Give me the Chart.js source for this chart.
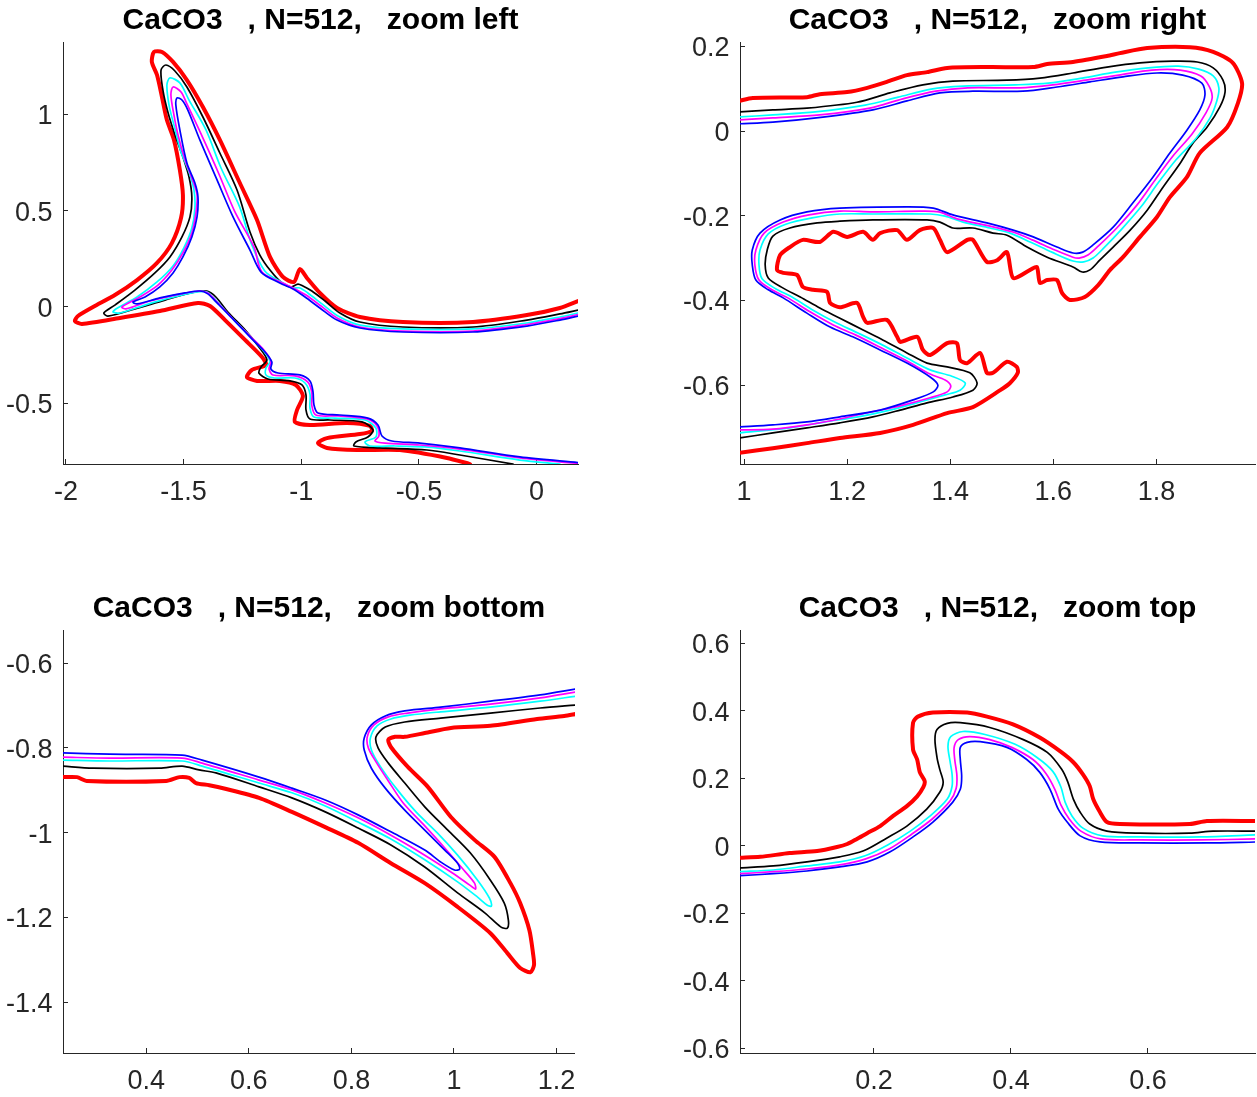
<!DOCTYPE html>
<html>
<head>
<meta charset="utf-8">
<script src="https://cdn.jsdelivr.net/npm/chart.js@4.4.0/dist/chart.umd.min.js"></script>
<style>
  body { margin: 0; background: #fff; width: 1257px; height: 1097px; position: relative; overflow: hidden; }
  canvas { position: absolute; }
</style>
</head>
<body>
<canvas id="zLeft" width="593" height="514" style="left:0;top:0"></canvas>
<canvas id="zRight" width="580" height="514" style="left:677px;top:0"></canvas>
<canvas id="zBottom" width="593" height="515" style="left:0;top:588px"></canvas>
<canvas id="zTop" width="580" height="515" style="left:677px;top:588px"></canvas>
<script>
// ---------- titles & ticks ----------
const titleBase = 'CaCO3   , N=512,   ';
const leftXTicks = [-2, -1.5, -1, -0.5, 0];
const leftYTicks = [-0.5, 0, 0.5, 1];
const rightXTicks = [1, 1.2, 1.4, 1.6, 1.8];
const rightYTicks = [-0.6, -0.4, -0.2, 0, 0.2];
const bottomXTicks = [0.4, 0.6, 0.8, 1, 1.2];
const bottomYTicks = [-1.4, -1.2, -1, -0.8, -0.6];
const topXTicks = [0.2, 0.4, 0.6];
const topYTicks = [-0.6, -0.4, -0.2, 0, 0.2, 0.4, 0.6];

// ---------- zoom left ----------
const leftRed = [[0.176,0.031],[0.099,-0.005],[-0.041,-0.042],[-0.270,-0.078],[-0.568,-0.078],[-0.751,-0.052],[-0.848,-0.005],[-0.921,0.073],[-0.976,0.151],[-1.006,0.197],[-1.031,0.130],[-1.078,0.156],[-1.133,0.260],[-1.188,0.452],[-1.261,0.644],[-1.346,0.868],[-1.418,1.039],[-1.486,1.179],[-1.545,1.273],[-1.592,1.325],[-1.626,1.325],[-1.635,1.273],[-1.613,1.205],[-1.592,1.091],[-1.571,0.971],[-1.541,0.868],[-1.516,0.712],[-1.503,0.582],[-1.511,0.462],[-1.550,0.332],[-1.613,0.229],[-1.698,0.140],[-1.792,0.062],[-1.885,0],[-1.949,-0.047],[-1.962,-0.073],[-1.932,-0.088],[-1.771,-0.057],[-1.601,-0.021],[-1.439,0.021],[-1.388,0.005],[-1.324,-0.068],[-1.239,-0.171],[-1.167,-0.260],[-1.150,-0.301],[-1.210,-0.327],[-1.231,-0.364],[-1.188,-0.384],[-1.091,-0.384],[-1.023,-0.405],[-0.993,-0.462],[-1.018,-0.535],[-1.027,-0.597],[-0.963,-0.613],[-0.806,-0.603],[-0.708,-0.618],[-0.700,-0.644],[-0.751,-0.660],[-0.891,-0.681],[-0.929,-0.707],[-0.891,-0.732],[-0.763,-0.743],[-0.581,-0.743],[-0.381,-0.784],[-0.283,-0.816]];
const leftBlack = [[0.176,-0.016],[0.099,-0.036],[-0.041,-0.068],[-0.270,-0.104],[-0.568,-0.104],[-0.751,-0.078],[-0.836,-0.031],[-0.899,0.031],[-0.955,0.083],[-0.993,0.109],[-1.014,0.119],[-1.044,0.104],[-1.082,0.125],[-1.133,0.192],[-1.176,0.270],[-1.218,0.390],[-1.273,0.608],[-1.346,0.800],[-1.418,0.987],[-1.486,1.143],[-1.537,1.226],[-1.575,1.257],[-1.596,1.231],[-1.588,1.127],[-1.567,1.013],[-1.537,0.894],[-1.503,0.779],[-1.477,0.675],[-1.465,0.571],[-1.473,0.468],[-1.507,0.364],[-1.558,0.260],[-1.622,0.177],[-1.707,0.088],[-1.792,0.010],[-1.839,-0.031],[-1.822,-0.047],[-1.707,-0.010],[-1.579,0.036],[-1.452,0.078],[-1.401,0.083],[-1.363,0.052],[-1.312,-0.026],[-1.239,-0.119],[-1.180,-0.208],[-1.146,-0.275],[-1.171,-0.312],[-1.180,-0.343],[-1.142,-0.374],[-1.048,-0.384],[-0.997,-0.405],[-0.980,-0.457],[-0.980,-0.535],[-0.963,-0.582],[-0.878,-0.587],[-0.742,-0.597],[-0.695,-0.639],[-0.717,-0.675],[-0.768,-0.701],[-0.776,-0.722],[-0.666,-0.732],[-0.466,-0.743],[-0.326,-0.769],[-0.100,-0.816]];
const leftCyan = [[0.176,-0.031],[0.099,-0.052],[-0.041,-0.083],[-0.270,-0.114],[-0.568,-0.114],[-0.751,-0.094],[-0.844,-0.047],[-0.912,0.016],[-0.972,0.073],[-1.006,0.099],[-1.035,0.099],[-1.078,0.125],[-1.155,0.187],[-1.213,0.332],[-1.262,0.520],[-1.341,0.722],[-1.405,0.920],[-1.477,1.075],[-1.516,1.164],[-1.558,1.190],[-1.571,1.153],[-1.562,1.049],[-1.541,0.945],[-1.511,0.805],[-1.477,0.701],[-1.456,0.608],[-1.452,0.514],[-1.465,0.410],[-1.499,0.307],[-1.545,0.213],[-1.613,0.130],[-1.698,0.052],[-1.788,-0.010],[-1.800,-0.026],[-1.771,-0.031],[-1.664,0.010],[-1.558,0.047],[-1.443,0.078],[-1.401,0.078],[-1.363,0.036],[-1.303,-0.047],[-1.227,-0.140],[-1.167,-0.218],[-1.133,-0.281],[-1.150,-0.317],[-1.150,-0.353],[-1.112,-0.369],[-1.027,-0.369],[-0.984,-0.395],[-0.963,-0.452],[-0.963,-0.525],[-0.946,-0.571],[-0.857,-0.577],[-0.729,-0.587],[-0.683,-0.629],[-0.683,-0.675],[-0.729,-0.701],[-0.708,-0.722],[-0.602,-0.722],[-0.474,-0.727],[-0.326,-0.748],[-0.071,-0.795],[0.099,-0.816]];
const leftMagenta = [[0.176,-0.039],[0.099,-0.060],[-0.041,-0.091],[-0.270,-0.125],[-0.568,-0.125],[-0.751,-0.104],[-0.848,-0.057],[-0.916,0.005],[-0.980,0.062],[-1.018,0.088],[-1.069,0.119],[-1.167,0.182],[-1.201,0.312],[-1.282,0.494],[-1.350,0.691],[-1.426,0.899],[-1.486,1.055],[-1.511,1.117],[-1.545,1.143],[-1.554,1.101],[-1.541,0.997],[-1.524,0.894],[-1.494,0.764],[-1.465,0.670],[-1.443,0.582],[-1.448,0.488],[-1.465,0.384],[-1.503,0.281],[-1.550,0.192],[-1.609,0.114],[-1.686,0.052],[-1.762,0],[-1.745,-0.010],[-1.643,0.031],[-1.537,0.062],[-1.435,0.083],[-1.397,0.073],[-1.358,0.026],[-1.295,-0.057],[-1.218,-0.151],[-1.159,-0.223],[-1.129,-0.281],[-1.137,-0.322],[-1.120,-0.353],[-1.027,-0.358],[-0.972,-0.390],[-0.955,-0.447],[-0.955,-0.514],[-0.938,-0.561],[-0.844,-0.566],[-0.721,-0.582],[-0.678,-0.618],[-0.670,-0.670],[-0.687,-0.696],[-0.644,-0.707],[-0.496,-0.717],[-0.326,-0.738],[-0.071,-0.784],[0.176,-0.813]];
const leftBlue = [[0.176,-0.047],[0.099,-0.068],[-0.041,-0.099],[-0.270,-0.130],[-0.568,-0.130],[-0.751,-0.109],[-0.848,-0.068],[-0.921,-0.005],[-0.984,0.052],[-1.035,0.094],[-1.091,0.125],[-1.170,0.180],[-1.218,0.296],[-1.290,0.468],[-1.358,0.660],[-1.431,0.868],[-1.482,1.023],[-1.507,1.075],[-1.528,1.086],[-1.533,1.049],[-1.516,0.920],[-1.486,0.748],[-1.452,0.644],[-1.439,0.571],[-1.443,0.468],[-1.465,0.364],[-1.503,0.260],[-1.545,0.177],[-1.601,0.104],[-1.664,0.052],[-1.715,0.026],[-1.698,0.016],[-1.601,0.047],[-1.494,0.073],[-1.431,0.083],[-1.397,0.068],[-1.354,0.016],[-1.282,-0.073],[-1.210,-0.166],[-1.154,-0.234],[-1.125,-0.286],[-1.129,-0.322],[-1.099,-0.343],[-1.006,-0.353],[-0.963,-0.384],[-0.950,-0.442],[-0.946,-0.509],[-0.929,-0.551],[-0.836,-0.561],[-0.717,-0.577],[-0.674,-0.613],[-0.657,-0.670],[-0.615,-0.696],[-0.496,-0.707],[-0.326,-0.732],[-0.071,-0.779],[0.176,-0.808]];

// ---------- zoom right ----------
const rightRed = [[0.990,0.071],[1.017,0.078],[1.122,0.080],[1.147,0.087],[1.200,0.092],[1.239,0.102],[1.277,0.116],[1.316,0.132],[1.355,0.139],[1.394,0.149],[1.477,0.151],[1.561,0.151],[1.588,0.158],[1.638,0.163],[1.704,0.177],[1.729,0.184],[1.782,0.196],[1.865,0.198],[1.910,0.187],[1.948,0.161],[1.966,0.113],[1.958,0.066],[1.937,0.009],[1.884,-0.052],[1.859,-0.109],[1.826,-0.156],[1.801,-0.203],[1.768,-0.250],[1.735,-0.298],[1.710,-0.328],[1.687,-0.364],[1.661,-0.392],[1.632,-0.399],[1.617,-0.383],[1.607,-0.352],[1.588,-0.352],[1.574,-0.359],[1.568,-0.321],[1.555,-0.328],[1.522,-0.347],[1.510,-0.286],[1.491,-0.305],[1.471,-0.309],[1.444,-0.257],[1.433,-0.257],[1.394,-0.286],[1.380,-0.257],[1.367,-0.229],[1.341,-0.234],[1.316,-0.257],[1.297,-0.234],[1.264,-0.241],[1.250,-0.257],[1.231,-0.238],[1.200,-0.250],[1.173,-0.238],[1.147,-0.262],[1.114,-0.257],[1.089,-0.274],[1.070,-0.293],[1.064,-0.328],[1.076,-0.335],[1.103,-0.340],[1.114,-0.368],[1.134,-0.375],[1.161,-0.380],[1.167,-0.406],[1.186,-0.416],[1.219,-0.406],[1.231,-0.439],[1.239,-0.453],[1.277,-0.446],[1.297,-0.486],[1.303,-0.498],[1.336,-0.486],[1.347,-0.517],[1.361,-0.529],[1.394,-0.501],[1.413,-0.501],[1.419,-0.541],[1.433,-0.548],[1.458,-0.524],[1.471,-0.571],[1.483,-0.571],[1.510,-0.545],[1.529,-0.557],[1.531,-0.571],[1.516,-0.595],[1.497,-0.612],[1.444,-0.652],[1.394,-0.666],[1.328,-0.694],[1.264,-0.713],[1.186,-0.725],[1.122,-0.737],[1.056,-0.749],[0.990,-0.760]];
const rightBlack = [[0.990,0.045],[1.056,0.050],[1.122,0.054],[1.219,0.068],[1.283,0.090],[1.347,0.109],[1.405,0.118],[1.510,0.120],[1.574,0.125],[1.638,0.137],[1.704,0.151],[1.768,0.161],[1.832,0.165],[1.879,0.163],[1.910,0.149],[1.929,0.120],[1.933,0.092],[1.923,0.057],[1.898,0.009],[1.871,-0.028],[1.846,-0.076],[1.813,-0.132],[1.782,-0.187],[1.749,-0.234],[1.716,-0.274],[1.690,-0.305],[1.671,-0.328],[1.656,-0.333],[1.638,-0.321],[1.588,-0.298],[1.549,-0.274],[1.510,-0.246],[1.483,-0.241],[1.444,-0.229],[1.405,-0.229],[1.380,-0.215],[1.355,-0.210],[1.250,-0.210],[1.186,-0.213],[1.142,-0.217],[1.089,-0.229],[1.056,-0.248],[1.045,-0.281],[1.041,-0.316],[1.047,-0.347],[1.076,-0.371],[1.109,-0.392],[1.147,-0.418],[1.186,-0.442],[1.231,-0.470],[1.270,-0.494],[1.316,-0.524],[1.355,-0.548],[1.394,-0.557],[1.438,-0.571],[1.452,-0.595],[1.444,-0.612],[1.405,-0.628],[1.355,-0.642],[1.303,-0.659],[1.250,-0.675],[1.186,-0.689],[1.122,-0.701],[1.056,-0.713],[0.990,-0.725]];
const rightCyan = [[0.990,0.033],[1.056,0.038],[1.138,0.045],[1.235,0.061],[1.299,0.080],[1.363,0.099],[1.425,0.106],[1.526,0.109],[1.590,0.113],[1.656,0.125],[1.720,0.139],[1.784,0.149],[1.842,0.153],[1.882,0.146],[1.910,0.130],[1.921,0.102],[1.917,0.071],[1.904,0.031],[1.877,-0.017],[1.838,-0.068],[1.803,-0.123],[1.770,-0.179],[1.733,-0.231],[1.698,-0.276],[1.677,-0.300],[1.659,-0.309],[1.638,-0.307],[1.597,-0.286],[1.555,-0.262],[1.516,-0.241],[1.477,-0.229],[1.425,-0.215],[1.390,-0.201],[1.361,-0.196],[1.250,-0.196],[1.186,-0.196],[1.132,-0.205],[1.081,-0.220],[1.047,-0.243],[1.031,-0.281],[1.029,-0.316],[1.035,-0.349],[1.062,-0.373],[1.093,-0.392],[1.134,-0.423],[1.176,-0.451],[1.221,-0.477],[1.268,-0.505],[1.316,-0.536],[1.361,-0.564],[1.403,-0.579],[1.429,-0.595],[1.419,-0.612],[1.390,-0.623],[1.341,-0.640],[1.283,-0.659],[1.221,-0.675],[1.157,-0.687],[1.089,-0.701],[0.990,-0.713]];
const rightMagenta = [[0.990,0.026],[1.056,0.031],[1.147,0.038],[1.244,0.054],[1.308,0.076],[1.372,0.094],[1.434,0.102],[1.535,0.102],[1.599,0.109],[1.663,0.120],[1.727,0.132],[1.791,0.144],[1.846,0.144],[1.886,0.130],[1.902,0.106],[1.908,0.078],[1.896,0.043],[1.869,-0.007],[1.832,-0.059],[1.797,-0.116],[1.762,-0.175],[1.723,-0.229],[1.687,-0.272],[1.667,-0.293],[1.650,-0.300],[1.638,-0.298],[1.603,-0.281],[1.559,-0.257],[1.520,-0.238],[1.475,-0.224],[1.415,-0.208],[1.378,-0.191],[1.341,-0.189],[1.250,-0.191],[1.186,-0.189],[1.126,-0.198],[1.076,-0.215],[1.039,-0.241],[1.023,-0.281],[1.021,-0.316],[1.029,-0.352],[1.054,-0.375],[1.085,-0.394],[1.128,-0.427],[1.173,-0.458],[1.217,-0.482],[1.266,-0.512],[1.316,-0.543],[1.361,-0.574],[1.390,-0.588],[1.401,-0.602],[1.394,-0.616],[1.361,-0.630],[1.303,-0.649],[1.244,-0.664],[1.186,-0.680],[1.122,-0.694],[1.056,-0.704],[0.990,-0.706]];
const rightBlue = [[0.990,0.017],[1.056,0.021],[1.153,0.033],[1.250,0.050],[1.316,0.071],[1.380,0.090],[1.444,0.094],[1.541,0.094],[1.607,0.104],[1.671,0.116],[1.735,0.128],[1.801,0.137],[1.851,0.132],[1.888,0.113],[1.894,0.085],[1.884,0.050],[1.859,0.002],[1.826,-0.052],[1.793,-0.109],[1.754,-0.170],[1.716,-0.227],[1.677,-0.269],[1.657,-0.286],[1.638,-0.288],[1.607,-0.274],[1.561,-0.250],[1.522,-0.234],[1.471,-0.217],[1.405,-0.198],[1.367,-0.182],[1.316,-0.179],[1.186,-0.182],[1.122,-0.191],[1.070,-0.210],[1.031,-0.241],[1.016,-0.281],[1.016,-0.316],[1.023,-0.352],[1.047,-0.375],[1.076,-0.394],[1.122,-0.430],[1.167,-0.463],[1.211,-0.486],[1.264,-0.517],[1.316,-0.548],[1.361,-0.581],[1.376,-0.600],[1.367,-0.616],[1.328,-0.635],[1.264,-0.659],[1.186,-0.675],[1.122,-0.687],[1.056,-0.694],[0.990,-0.699]];

// ---------- zoom bottom ----------
const bottomRed = [[0.236,-0.869],[0.265,-0.869],[0.284,-0.878],[0.439,-0.878],[0.465,-0.869],[0.484,-0.871],[0.497,-0.883],[0.523,-0.888],[0.556,-0.897],[0.620,-0.918],[0.684,-0.951],[0.749,-0.987],[0.813,-1.024],[0.877,-1.072],[0.943,-1.119],[1.007,-1.175],[1.071,-1.237],[1.104,-1.284],[1.129,-1.319],[1.149,-1.329],[1.156,-1.312],[1.154,-1.284],[1.147,-1.230],[1.129,-1.166],[1.110,-1.119],[1.079,-1.057],[1.040,-1.017],[0.994,-0.963],[0.949,-0.892],[0.910,-0.845],[0.877,-0.798],[0.872,-0.781],[0.885,-0.774],[0.904,-0.774],[0.943,-0.765],[0.994,-0.753],[1.071,-0.748],[1.162,-0.732],[1.215,-0.725],[1.238,-0.720]];
const bottomBlack = [[0.236,-0.843],[0.296,-0.848],[0.426,-0.848],[0.470,-0.843],[0.503,-0.852],[0.536,-0.859],[0.620,-0.892],[0.684,-0.918],[0.749,-0.951],[0.813,-0.989],[0.877,-1.029],[0.943,-1.081],[1.007,-1.142],[1.060,-1.189],[1.091,-1.222],[1.104,-1.225],[1.106,-1.206],[1.098,-1.166],[1.071,-1.112],[1.032,-1.048],[0.988,-0.994],[0.943,-0.939],[0.904,-0.883],[0.872,-0.836],[0.852,-0.800],[0.848,-0.774],[0.866,-0.751],[0.904,-0.739],[0.974,-0.730],[1.071,-0.718],[1.168,-0.706],[1.238,-0.699]];
const bottomCyan = [[0.236,-0.829],[0.329,-0.831],[0.470,-0.831],[0.509,-0.843],[0.620,-0.883],[0.684,-0.906],[0.749,-0.937],[0.813,-0.975],[0.877,-1.015],[0.943,-1.064],[1.007,-1.116],[1.046,-1.152],[1.065,-1.171],[1.073,-1.173],[1.069,-1.154],[1.046,-1.112],[1.007,-1.053],[0.968,-1.001],[0.926,-0.951],[0.887,-0.895],[0.856,-0.843],[0.839,-0.805],[0.837,-0.777],[0.850,-0.748],[0.877,-0.732],[0.914,-0.723],[0.974,-0.715],[1.071,-0.704],[1.168,-0.690],[1.238,-0.678]];
const bottomMagenta = [[0.236,-0.822],[0.329,-0.824],[0.470,-0.824],[0.509,-0.836],[0.620,-0.876],[0.684,-0.899],[0.749,-0.930],[0.813,-0.965],[0.877,-1.006],[0.943,-1.053],[0.997,-1.095],[1.030,-1.123],[1.042,-1.133],[1.040,-1.119],[1.019,-1.088],[0.982,-1.036],[0.943,-0.984],[0.901,-0.930],[0.872,-0.878],[0.848,-0.833],[0.833,-0.800],[0.831,-0.774],[0.844,-0.746],[0.872,-0.727],[0.910,-0.718],[0.974,-0.708],[1.071,-0.697],[1.168,-0.682],[1.238,-0.668]];
const bottomBlue = [[0.236,-0.812],[0.329,-0.815],[0.470,-0.817],[0.509,-0.829],[0.620,-0.869],[0.684,-0.895],[0.749,-0.923],[0.813,-0.958],[0.877,-0.998],[0.943,-1.041],[0.974,-1.069],[1.001,-1.088],[1.011,-1.086],[1.007,-1.072],[0.982,-1.041],[0.943,-0.994],[0.904,-0.947],[0.866,-0.895],[0.839,-0.848],[0.825,-0.805],[0.825,-0.777],[0.839,-0.746],[0.866,-0.725],[0.904,-0.713],[0.974,-0.704],[1.071,-0.690],[1.168,-0.675],[1.238,-0.661]];

// ---------- zoom top ----------
const topRed = [[0.004,-0.036],[0.034,-0.033],[0.077,-0.022],[0.117,-0.016],[0.146,-0.004],[0.161,0.005],[0.175,0.020],[0.190,0.037],[0.209,0.058],[0.228,0.088],[0.248,0.117],[0.263,0.146],[0.272,0.173],[0.274,0.191],[0.267,0.217],[0.263,0.255],[0.257,0.285],[0.257,0.364],[0.264,0.382],[0.286,0.394],[0.336,0.394],[0.365,0.382],[0.403,0.359],[0.442,0.320],[0.472,0.279],[0.491,0.247],[0.505,0.211],[0.515,0.176],[0.520,0.138],[0.530,0.099],[0.540,0.070],[0.559,0.064],[0.661,0.064],[0.686,0.073],[0.758,0.073]];
const topBlack = [[0.004,-0.066],[0.053,-0.060],[0.102,-0.048],[0.150,-0.033],[0.184,-0.016],[0.219,0.023],[0.248,0.058],[0.277,0.108],[0.296,0.158],[0.301,0.188],[0.296,0.226],[0.292,0.261],[0.289,0.314],[0.292,0.344],[0.307,0.362],[0.326,0.364],[0.369,0.350],[0.418,0.314],[0.453,0.276],[0.474,0.226],[0.483,0.188],[0.491,0.138],[0.501,0.099],[0.515,0.064],[0.540,0.043],[0.588,0.037],[0.661,0.037],[0.695,0.043],[0.758,0.043]];
const topCyan = [[0.004,-0.077],[0.053,-0.072],[0.102,-0.060],[0.150,-0.048],[0.187,-0.030],[0.220,0.002],[0.253,0.043],[0.282,0.088],[0.307,0.138],[0.314,0.176],[0.314,0.211],[0.311,0.250],[0.308,0.294],[0.312,0.323],[0.330,0.338],[0.362,0.329],[0.406,0.300],[0.438,0.261],[0.461,0.220],[0.473,0.173],[0.479,0.129],[0.489,0.088],[0.505,0.052],[0.534,0.029],[0.588,0.026],[0.676,0.026],[0.758,0.032]];
const topMagenta = [[0.004,-0.083],[0.053,-0.077],[0.102,-0.069],[0.150,-0.057],[0.188,-0.039],[0.222,-0.010],[0.255,0.034],[0.285,0.079],[0.311,0.132],[0.320,0.170],[0.321,0.208],[0.318,0.253],[0.317,0.291],[0.323,0.314],[0.340,0.323],[0.369,0.314],[0.401,0.291],[0.432,0.255],[0.451,0.214],[0.464,0.167],[0.473,0.120],[0.485,0.079],[0.502,0.043],[0.531,0.020],[0.588,0.017],[0.676,0.017],[0.758,0.020]];
const topBlue = [[0.004,-0.089],[0.053,-0.083],[0.102,-0.075],[0.150,-0.063],[0.190,-0.048],[0.223,-0.019],[0.257,0.026],[0.286,0.070],[0.315,0.129],[0.326,0.167],[0.328,0.205],[0.326,0.255],[0.326,0.291],[0.336,0.306],[0.355,0.308],[0.394,0.291],[0.423,0.255],[0.442,0.217],[0.457,0.167],[0.469,0.108],[0.482,0.070],[0.501,0.029],[0.530,0.011],[0.588,0.008],[0.686,0.008],[0.758,0.011]];

// ---------- drawing ----------
const FONT = "'Liberation Sans', Arial, Helvetica, sans-serif";
const AXIS = '#262626';

function linesFor(red, black, cyan, magenta, blue) {
  // first dataset is drawn on top
  const spec = [
    [blue, '#0000ff', 1.7],
    [magenta, '#ff00ff', 1.7],
    [cyan, '#00ffff', 1.7],
    [black, '#000000', 1.7],
    [red, '#ff0000', 4]
  ];
  return spec.map(([pts, color, w]) => ({
    data: pts.map(([x, y]) => ({ x, y })),
    showLine: true,
    borderColor: color,
    borderWidth: w,
    pointRadius: 0,
    tension: w > 2 ? 0.25 : 0.3,
    borderJoinStyle: 'round',
    borderCapStyle: 'round'
  }));
}

function axisOpts(min, max, ticks, isX) {
  return {
    type: 'linear',
    min, max,
    afterFit: (s) => { if (isX) s.height = 50; else s.width = 63; },
    afterBuildTicks: (s) => { s.ticks = ticks.map(v => ({ value: v })); },
    grid: { drawOnChartArea: false, drawTicks: true, tickLength: -5, tickColor: AXIS, lineWidth: 1 },
    border: { display: true, color: AXIS, width: 1 },
    ticks: {
      color: AXIS,
      font: { family: FONT, size: 27 },
      padding: isX ? 17 : 15.5,
      labelOffset: isX ? 0 : 2.5,
      maxRotation: 0,
      autoSkip: false,
      callback: (v) => String(v)
    }
  };
}

function makePanel(id, title, xLim, yLim, xTicks, yTicks, datasets, padRight) {
  new Chart(document.getElementById(id), {
    type: 'scatter',
    data: { datasets },
    options: {
      responsive: false,
      animation: false,
      layout: { padding: { left: 0, right: padRight, top: 0, bottom: 0 } },
      plugins: {
        legend: { display: false },
        tooltip: { enabled: false },
        title: {
          display: true,
          text: title,
          fullSize: false,
          color: '#000',
          font: { family: FONT, size: 30, weight: 'bold' },
          padding: { top: 3, bottom: 3 }
        }
      },
      scales: {
        x: axisOpts(xLim[0], xLim[1], xTicks, true),
        y: axisOpts(yLim[0], yLim[1], yTicks, false)
      }
    }
  });
}

makePanel('zLeft', titleBase + 'zoom left', [-2.0126, 0.176], [-0.8156, 1.3766],
  leftXTicks, leftYTicks, linesFor(leftRed, leftBlack, leftCyan, leftMagenta, leftBlue), 15);
makePanel('zRight', titleBase + 'zoom right', [0.9922, 1.9911], [-0.7863, 0.2102],
  rightXTicks, rightYTicks, linesFor(rightRed, rightBlack, rightCyan, rightMagenta, rightBlue), 2);
makePanel('zBottom', titleBase + 'zoom bottom', [0.2378, 1.2357], [-1.5195, -0.5221],
  bottomXTicks, bottomYTicks, linesFor(bottomRed, bottomBlack, bottomCyan, bottomMagenta, bottomBlue), 15);
makePanel('zTop', titleBase + 'zoom top', [0.0044, 0.7562], [-0.6138, 0.6385],
  topXTicks, topYTicks, linesFor(topRed, topBlack, topCyan, topMagenta, topBlue), 2);
</script>
</body>
</html>
